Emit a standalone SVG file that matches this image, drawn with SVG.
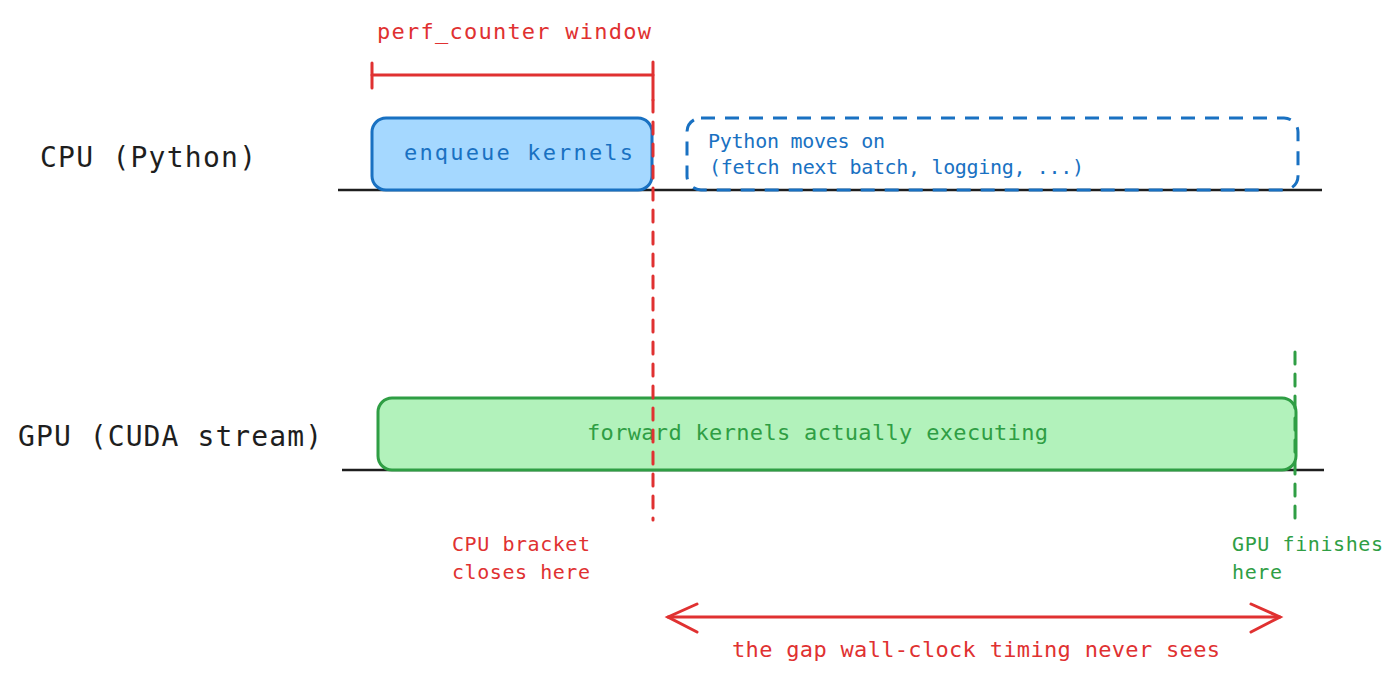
<svg xmlns="http://www.w3.org/2000/svg" width="1400" height="682" viewBox="0 0 1400 682">
<style>
text{font-family:"DejaVu Sans Mono","Liberation Mono",monospace}
.red{fill:#e03131}.blue{fill:#1971c2}.green{fill:#2f9e44}.blk{fill:#1e1e1e}
.sm{font-size:20px}.lg{font-size:28px}
</style>
<rect width="1400" height="682" fill="#fff"/>
<g id="baselines" stroke="#1e1e1e" stroke-width="2.5">
<line x1="338" y1="190" x2="1322" y2="190"/>
<line x1="342" y1="470" x2="1324" y2="470"/>
</g>
<g id="cpu-label"><text x="40" y="167" class="lg blk" textLength="216" lengthAdjust="spacing">CPU (Python)</text></g>
<g id="gpu-label"><text x="18" y="446" class="lg blk" textLength="304" lengthAdjust="spacing">GPU (CUDA stream)</text></g>
<g id="enqueue"><rect x="372" y="118" width="280" height="72" rx="14" fill="#a5d8ff" stroke="#1971c2" stroke-width="3"/>
<text x="404" y="160" class="blue" font-size="22" textLength="229" lengthAdjust="spacing">enqueue kernels</text></g>
<g id="python-moves"><rect x="687" y="118" width="611" height="72" rx="14" fill="none" stroke="#1971c2" stroke-width="3" stroke-dasharray="14 10"/>
<text x="708" y="148" class="blue sm" textLength="177" lengthAdjust="spacing">Python moves on</text>
<text x="709" y="174" class="blue sm" textLength="375" lengthAdjust="spacing">(fetch next batch, logging, ...)</text></g>
<g id="gpu-box"><rect x="378" y="398" width="918" height="72" rx="14" fill="#b2f2bb" stroke="#2f9e44" stroke-width="3"/>
<text x="587" y="440" class="green" font-size="22" textLength="461" lengthAdjust="spacing">forward kernels actually executing</text></g>
<g id="perf-window"><text x="377" y="39" class="red" font-size="22" textLength="274" lengthAdjust="spacing">perf_counter window</text></g>
<g id="connectors" fill="none" stroke-linecap="round" stroke-width="3">
<line x1="372" y1="75" x2="653" y2="75" stroke="#e03131"/>
<line x1="372" y1="63" x2="372" y2="88" stroke="#e03131"/>
<line x1="653" y1="62" x2="653" y2="100" stroke="#e03131"/>
<line x1="653" y1="100" x2="653" y2="520" stroke="#e03131" stroke-dasharray="12 10"/>
<line x1="1295" y1="352" x2="1295" y2="520" stroke="#2f9e44" stroke-dasharray="12 10"/>
<line x1="668" y1="617" x2="1280" y2="617" stroke="#e03131"/>
<path d="M697 604 L668 617 L697 632 M1251 604 L1280 617 L1251 632" stroke="#e03131"/>
</g>
<g id="cpu-closes"><text x="452" y="551" class="red sm" textLength="138" lengthAdjust="spacing">CPU bracket</text><text x="452" y="579" class="red sm" textLength="138" lengthAdjust="spacing">closes here</text></g>
<g id="gpu-finishes"><text x="1232" y="551" class="green sm" textLength="151" lengthAdjust="spacing">GPU finishes</text><text x="1232" y="579" class="green sm" textLength="50" lengthAdjust="spacing">here</text></g>
<g id="gap"><text x="732" y="657" class="red" font-size="22" textLength="488" lengthAdjust="spacing">the gap wall-clock timing never sees</text></g>
</svg>
